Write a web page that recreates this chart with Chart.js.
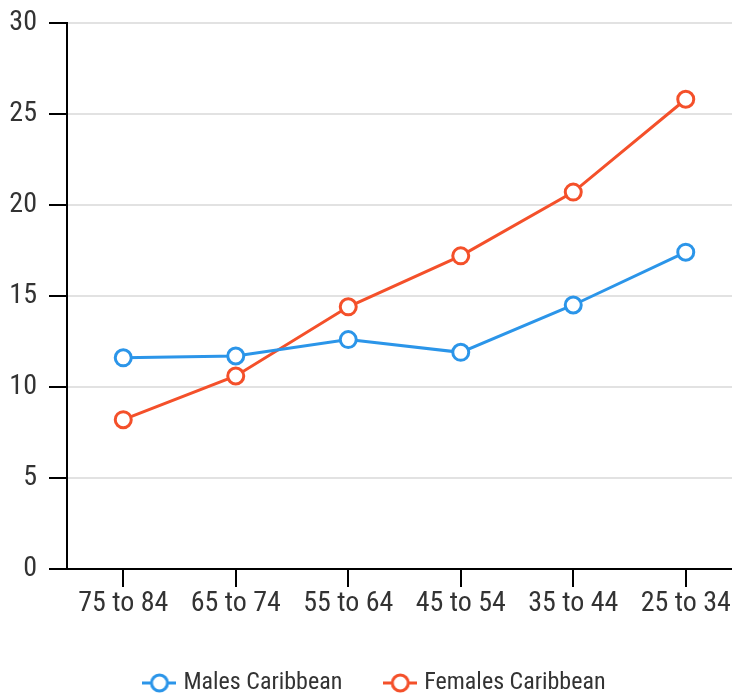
<!DOCTYPE html>
<html>
<head>
<meta charset="utf-8">
<script src="https://cdn.jsdelivr.net/npm/chart.js@4"></script>
<style>
  html, body { margin: 0; padding: 0; background: #fff; overflow: hidden; }
  #ageChart { display: block; margin-top: -6px; }
</style>
</head>
<body>
<canvas id="ageChart" width="753" height="711"></canvas>
<script>
const ageGroups = ['75 to 84', '65 to 74', '55 to 64', '45 to 54', '35 to 44', '25 to 34'];
const malesCaribbean = [11.6, 11.7, 12.6, 11.9, 14.5, 17.4];
const femalesCaribbean = [8.2, 10.6, 14.4, 17.2, 20.7, 25.8];
const yTicks = [0, 5, 10, 15, 20, 25, 30];

const BLUE = '#2b95e9';
const RED = '#f4502a';
const FONT = "'Roboto Condensed', 'Liberation Sans Narrow', Roboto, sans-serif";

// little "-o-" swatch for the legend
function legendMark(color) {
    const c = document.createElement('canvas');
    c.width = 34; c.height = 22;
    const g = c.getContext('2d');
    g.strokeStyle = color;
    g.lineWidth = 3;
    g.beginPath(); g.moveTo(0, 11); g.lineTo(34, 11); g.stroke();
    g.fillStyle = '#fff';
    g.beginPath(); g.arc(17, 11, 8, 0, Math.PI * 2); g.fill(); g.stroke();
    return c;
}

const series = [
    { label: 'Males Caribbean', data: malesCaribbean, color: BLUE },
    { label: 'Females Caribbean', data: femalesCaribbean, color: RED }
];

new Chart(document.getElementById('ageChart'), {
    type: 'line',
    data: {
        labels: ageGroups,
        datasets: series.map(s => ({
            label: s.label,
            data: s.data,
            borderColor: s.color,
            backgroundColor: '#fff',
            borderWidth: 3,
            pointRadius: 8,
            pointBorderWidth: 3,
            pointBackgroundColor: '#fff',
            pointBorderColor: s.color,
            tension: 0,
            clip: false
        }))
    },
    options: {
        responsive: false,
        animation: false,
        layout: { padding: { top: 5, left: 0, right: 0, bottom: 0 } },
        plugins: {
            tooltip: { enabled: false },
            legend: {
                position: 'bottom',
                labels: {
                    font: { family: FONT, size: 24 },
                    color: '#333',
                    usePointStyle: true,
                    padding: 46,
                    generateLabels: chart => series.map((s, i) => ({
                        text: s.label,
                        pointStyle: legendMark(s.color),
                        fillStyle: '#fff',
                        strokeStyle: s.color,
                        lineWidth: 0,
                        fontColor: '#333',
                        datasetIndex: i,
                        hidden: false
                    }))
                }
            }
        },
        scales: {
            x: {
                offset: true,
                border: { color: '#000', width: 2 },
                grid: { offset: false, drawOnChartArea: false, tickLength: 18, tickColor: '#000', lineWidth: 2 },
                ticks: { font: { family: FONT, size: 28 }, color: '#333', padding: 0, maxRotation: 0 },
                afterFit: s => { s.height = 56; }
            },
            y: {
                min: 0,
                max: 30,
                afterBuildTicks: s => { s.ticks = yTicks.map(v => ({ value: v })); },
                border: { color: '#000', width: 2 },
                grid: {
                    color: '#e2e2e2',
                    lineWidth: 2,
                    tickLength: 18,
                    tickColor: '#000',
                    drawTicks: true
                },
                ticks: { font: { family: FONT, size: 28 }, color: '#333', padding: 12 },
                afterFit: s => { s.width = 67; }
            }
        }
    }
});
</script>
</body>
</html>
